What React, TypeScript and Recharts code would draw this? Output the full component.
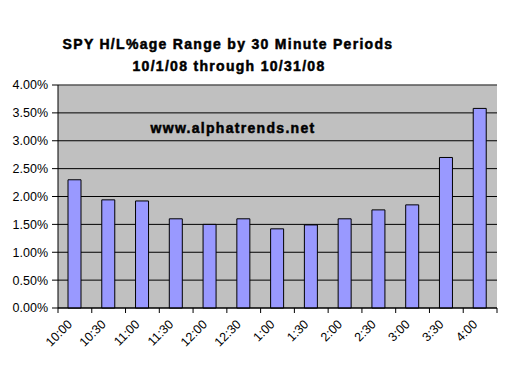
import React from "react";
import { BarChart, Bar, XAxis, YAxis, CartesianGrid, ReferenceLine } from "recharts";

const periods = ["10:00", "10:30", "11:00", "11:30", "12:00", "12:30", "1:00", "1:30", "2:00", "2:30", "3:00", "3:30", "4:00"];
const rangePct = [2.3, 1.94, 1.92, 1.6, 1.5, 1.6, 1.42, 1.49, 1.6, 1.76, 1.85, 2.7, 3.58];
const yTicks = [0, 0.5, 1, 1.5, 2, 2.5, 3, 3.5, 4];

const data = periods.map((p, i) => ({ period: p, range: rangePct[i] }));

const FONT = "Arial, 'Liberation Sans', sans-serif";

function XTick(props: any) {
  const { x, y, payload, index } = props;
  const off = payload.offset || 0;
  const last = index === periods.length - 1;
  return (
    <g>
      <line x1={x - off} x2={x - off} y1={y} y2={y + 5} stroke="#000" />
      {last && <line x1={x + off} x2={x + off} y1={y} y2={y + 5} stroke="#000" />}
      <text
        x={x - 2}
        y={y + 17}
        textAnchor="end"
        fontSize={12.5}
        fontFamily={FONT}
        fill="#000"
        transform={`rotate(-45 ${x - 2} ${y + 17})`}
      >
        {payload.value}
      </text>
    </g>
  );
}

const titleStyle = {
  fontFamily: FONT,
  fontWeight: "bold" as const,
  fontSize: 14,
  letterSpacing: 1.3,
  fill: "#000",
  stroke: "#000",
  strokeWidth: 0.5,
};

export default function App() {
  return (
    <div style={{ position: "absolute", left: 0, top: 0, background: "#fff" }}>
      <BarChart
        width={506}
        height={381}
        data={data}
        margin={{ top: 85, right: 9, left: 0, bottom: 0 }}
        barSize={13}
      >
        <CartesianGrid yAxisId="l" vertical={false} fill="#C0C0C0" stroke="#000" fillOpacity={1} />
        <XAxis
          dataKey="period"
          height={73}
          axisLine={{ stroke: "#000" }}
          tickLine={false}
          tickSize={0}
          tickMargin={0}
          interval={0}
          tick={<XTick />}
        />
        <YAxis
          yAxisId="l"
          width={58}
          domain={[0, 4]}
          ticks={yTicks}
          tickFormatter={(v: number) => v.toFixed(2) + "%"}
          axisLine={{ stroke: "#000" }}
          tickLine={{ stroke: "#000" }}
          tickSize={6}
          tickMargin={4}
          tick={{ fontSize: 12.5, fontFamily: FONT, fill: "#000" }}
          interval={0}
        />
        <YAxis
          yAxisId="r"
          orientation="right"
          width={0}
          domain={[0, 4]}
          tick={false}
          tickLine={false}
          axisLine={{ stroke: "#808080" }}
        />
        <ReferenceLine yAxisId="l" y={4} stroke="#808080" />
        <Bar
          yAxisId="l"
          dataKey="range"
          fill="#9999FF"
          stroke="#000"
          strokeWidth={1}
          isAnimationActive={false}
        />
        <text x={228} y={49} textAnchor="middle" {...titleStyle}>
          SPY H/L%age Range by 30 Minute Periods
        </text>
        <text x={229} y={71} textAnchor="middle" {...titleStyle}>
          10/1/08 through 10/31/08
        </text>
        <text x={233} y={133} textAnchor="middle" {...titleStyle}>
          www.alphatrends.net
        </text>
      </BarChart>
    </div>
  );
}
